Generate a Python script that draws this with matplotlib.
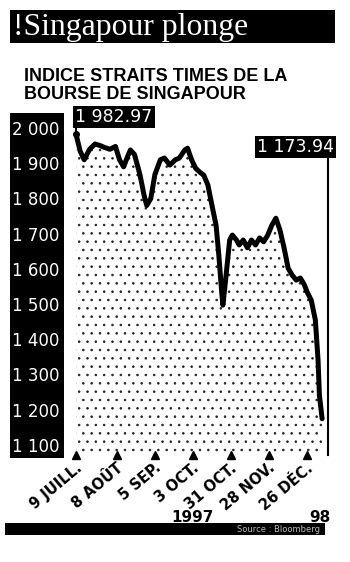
import matplotlib
matplotlib.use("Agg")
import matplotlib.pyplot as plt
from matplotlib import font_manager
from matplotlib.patches import Rectangle

# ---- data ----
days = [0, 3, 6, 10, 14, 18, 21, 25, 29, 32, 35, 38, 40, 43, 47, 50, 52, 55, 58,
        62, 65, 69, 73, 76, 80, 82, 85, 88, 91, 94, 97, 100, 103, 105, 107, 108,
        110, 113, 115, 118, 120, 123, 126, 129, 132, 135, 138, 141, 144, 147, 150,
        153, 156, 159, 162, 165, 168, 170, 173, 176, 178, 179, 181]
values = [1982.97, 1935, 1910, 1940, 1955, 1950, 1945, 1940, 1948, 1910, 1890, 1920,
          1938, 1925, 1868, 1810, 1780, 1800, 1868, 1910, 1915, 1895, 1910, 1915,
          1938, 1943, 1910, 1886, 1875, 1866, 1838, 1780, 1724, 1640, 1540, 1497,
          1568, 1682, 1696, 1682, 1668, 1682, 1660, 1682, 1668, 1688, 1677, 1696,
          1724, 1744, 1710, 1660, 1602, 1582, 1568, 1574, 1554, 1534, 1511, 1455,
          1341, 1241, 1173.94]
date_ticks = [0, 30, 58, 86, 114, 142, 170]
date_labels = ["9 JUILL.", "8 AOÛT", "5 SEP.", "3 OCT.", "31 OCT.", "28 NOV.", "26 DÉC."]
y_ticks = [1100, 1200, 1300, 1400, 1500, 1600, 1700, 1800, 1900, 2000]
y_labels = ["1 100", "1 200", "1 300", "1 400", "1 500", "1 600", "1 700", "1 800",
            "1 900", "2 000"]
title = "!Singapour plonge"
subtitle1 = "INDICE STRAITS TIMES DE LA"
subtitle2 = "BOURSE DE SINGAPOUR"
year_left = "1997"
year_right = "98"
source = "Source : Bloomberg"

plt.rcParams["hatch.linewidth"] = 0.6

avail = {f.name for f in font_manager.fontManager.ttflist}
narrow = "Liberation Sans Narrow" if "Liberation Sans Narrow" in avail else "Liberation Sans"

W, H = 350, 562
fig = plt.figure(figsize=(3.5, 5.62), dpi=100)
fig.patch.set_facecolor("white")

def fx(px):
    return px / W

def fy(py):
    return 1 - py / H

def rect(x0, y0, x1, y1):
    fig.patches.append(Rectangle((fx(x0), fy(y1)), fx(x1) - fx(x0), fy(y0) - fy(y1),
                                 transform=fig.transFigure, facecolor="black",
                                 edgecolor="none", zorder=-1))

# title bar
rect(10, 10, 335, 43)
fig.text(fx(13), fy(27), title, color="white", fontsize=22.8, family="Liberation Serif",
         va="center", ha="left")
fig.text(fx(24), fy(81), subtitle1, fontsize=13, family=narrow, fontweight="bold",
         va="baseline", ha="left")
fig.text(fx(24), fy(99), subtitle2, fontsize=13, family=narrow, fontweight="bold",
         va="baseline", ha="left")

# y label box
rect(10, 113, 64, 458)

ax = fig.add_axes([fx(68), fy(455), fx(336) - fx(68), fy(113) - fy(455)])
ax.patch.set_alpha(0)
x0, x1 = -5.9, 191.2
y0, y1 = 1071, 2043
ax.set_xlim(x0, x1)
ax.set_ylim(y0, y1)
for s in ax.spines.values():
    s.set_visible(False)
ax.set_xticks([])
ax.set_yticks(y_ticks, y_labels)
ax.tick_params(axis="y", length=0, pad=6, labelcolor="white", labelsize=12)
for t in ax.get_yticklabels():
    t.set_family("DejaVu Sans")

# stipple under the curve
ax.fill_between(days, values, y0, facecolor="none", edgecolor="#222222", hatch="..",
                linewidth=0)
ax.plot(days, values, color="black", lw=3.6, solid_joinstyle="round",
        solid_capstyle="round", zorder=3)

# date markers and labels
ax.plot(date_ticks, [y0] * len(date_ticks), ls="none", marker="^", ms=6,
        color="black", clip_on=False)
for d, lab in zip(date_ticks, date_labels):
    ax.annotate(lab, xy=(d, y0), xytext=(3, -8), textcoords="offset points",
                rotation=40, rotation_mode="anchor", ha="right", va="center",
                fontsize=10.5, fontweight="heavy", family="DejaVu Sans",
                annotation_clip=False)

# callouts
def fmt(v):
    return f"{v:,.2f}".replace(",", " ")

ax.plot([days[0], days[0]], [values[0], 2022], color="black", lw=1.5, clip_on=False)
ax.plot([days[0]], [values[0]], marker="o", ms=4, color="black", clip_on=False)
ax.text(-0.5, 2031, fmt(values[0]), color="white", fontsize=12.5, family="DejaVu Sans",
        va="center", ha="left",
        bbox=dict(boxstyle="square,pad=0.12", facecolor="black", edgecolor="none"),
        clip_on=False)
end_x = days[-1] + 4
ax.plot([end_x, end_x], [y0, 1940], color="black", lw=1.5, clip_on=False)
ax.text(133, 1947, fmt(values[-1]), color="white", fontsize=12.5, family="DejaVu Sans",
        va="center", ha="left",
        bbox=dict(boxstyle="square,pad=0.12", facecolor="black", edgecolor="none"),
        clip_on=False)

# bottom
fig.text(fx(193), fy(522), year_left, ha="center", va="baseline", fontsize=11,
         fontweight="bold", family="DejaVu Sans")
fig.text(fx(331), fy(522), year_right, ha="right", va="baseline", fontsize=11,
         fontweight="bold", family="DejaVu Sans")
rect(5, 523, 325, 535)
fig.text(fx(320), fy(529), source, ha="right", va="center", fontsize=6,
         color="#bbbbbb", family="DejaVu Sans")

fig.savefig("out.png", dpi=100)
